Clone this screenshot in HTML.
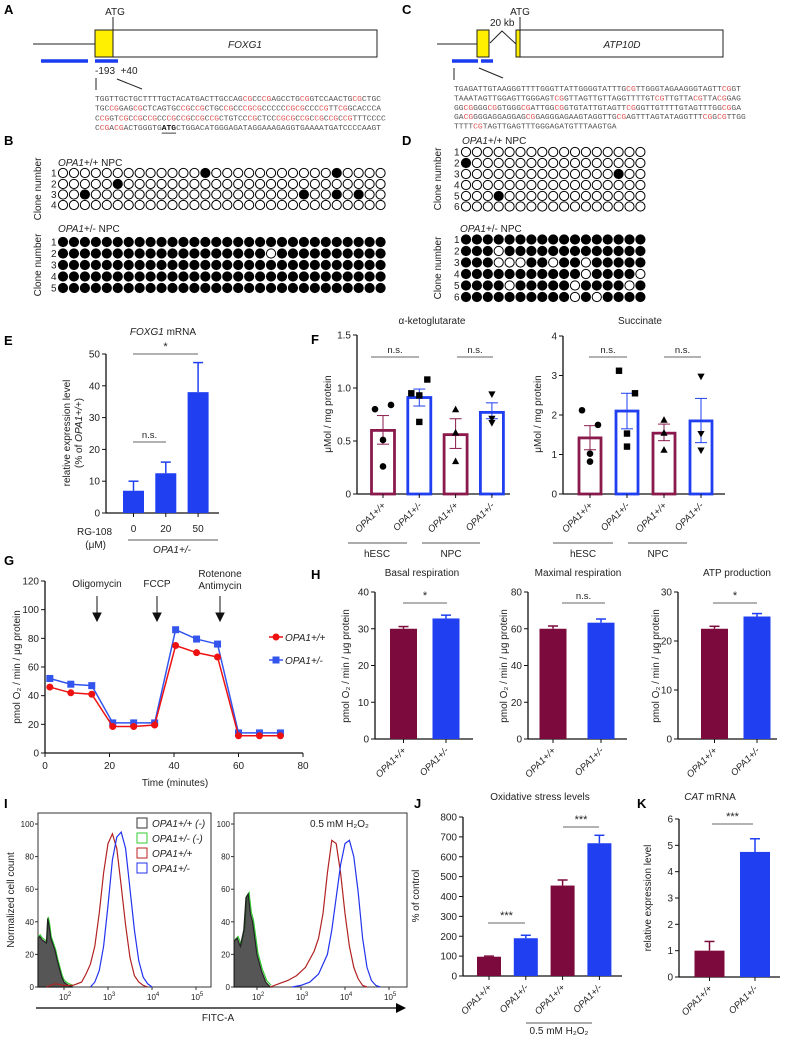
<!DOCTYPE html>
<html><head><meta charset="utf-8">
<style>
html,body{margin:0;padding:0;background:#fff;}
svg{display:block;font-family:"Liberation Sans",Arial,sans-serif;}
.pl{font-weight:bold;font-size:13px;}
.t{font-size:10px;fill:#222;}
.it{font-style:italic;}
</style></head>
<body>
<svg id="fig" width="787" height="1037" viewBox="0 0 787 1037" xmlns="http://www.w3.org/2000/svg">
<rect width="787" height="1037" fill="#fff"/>
<!-- Panel labels -->
<text class="pl" x="4" y="14">A</text>
<text class="pl" x="402" y="14">C</text>
<text class="pl" x="4" y="145">B</text>
<text class="pl" x="402" y="145">D</text>
<text class="pl" x="4" y="345">E</text>
<text class="pl" x="311" y="344">F</text>
<text class="pl" x="4" y="565">G</text>
<text class="pl" x="311" y="579">H</text>
<text class="pl" x="4" y="808">I</text>
<text class="pl" x="414" y="808">J</text>
<text class="pl" x="637" y="808">K</text>

<!-- A gene diagram -->
<g stroke="#222" fill="none">
<line x1="33" y1="44" x2="95" y2="44"/>
<rect x="95" y="30" width="18" height="27" fill="#ffef00"/>
<rect x="113" y="30" width="264" height="27" fill="#fff"/>
<line x1="113" y1="17" x2="113" y2="30"/>
<line x1="41" y1="61" x2="88" y2="61" stroke="#1a3cf0" stroke-width="3.5"/>
<line x1="95" y1="61" x2="118" y2="61" stroke="#1a3cf0" stroke-width="3.5"/>
<line x1="96" y1="78" x2="96" y2="90"/>
<line x1="117" y1="79" x2="142" y2="89"/>
</g>
<text class="t" x="115" y="15" text-anchor="middle" font-size="11">ATG</text>
<text class="t it" x="245" y="48" text-anchor="middle" font-size="11">FOXG1</text>
<text class="t" x="95" y="74" font-size="10">-193&#160; +40</text>
<g id="seqA"></g>

<!-- C gene diagram -->
<g stroke="#222" fill="none">
<line x1="437" y1="44" x2="477" y2="44"/>
<rect x="477" y="30" width="12" height="27" fill="#ffef00"/>
<polyline points="490,43 502,31 516,44"/>
<rect x="516" y="30" width="4" height="27" fill="#ffef00"/>
<rect x="520" y="30" width="203" height="27" fill="#fff"/>
<line x1="520" y1="17" x2="520" y2="30"/>
<line x1="452" y1="61" x2="478" y2="61" stroke="#1a3cf0" stroke-width="3.5"/>
<line x1="481" y1="61" x2="493" y2="61" stroke="#1a3cf0" stroke-width="3.5"/>
<line x1="454" y1="68" x2="454" y2="80"/>
<line x1="479" y1="68" x2="503" y2="78"/>
</g>
<text class="t" x="520" y="15" text-anchor="middle" font-size="11">ATG</text>
<text class="t" x="490" y="26" font-size="10.5">20 kb</text>
<text class="t it" x="622" y="48" text-anchor="middle" font-size="11">ATP10D</text>
<g id="seqC"></g>

<!-- B / D -->
<text class="t" x="58" y="166" font-size="10"><tspan font-style="italic">OPA1</tspan>+/+ NPC</text>
<text class="t" x="58" y="232" font-size="10"><tspan font-style="italic">OPA1</tspan>+/- NPC</text>
<text class="t" x="462" y="144" font-size="10"><tspan font-style="italic">OPA1</tspan>+/+ NPC</text>
<text class="t" x="460" y="232" font-size="10"><tspan font-style="italic">OPA1</tspan>+/- NPC</text>
<text class="t" transform="translate(41,189) rotate(-90)" text-anchor="middle" font-size="10">Clone number</text>
<text class="t" transform="translate(41,265) rotate(-90)" text-anchor="middle" font-size="10">Clone number</text>
<text class="t" transform="translate(441,179) rotate(-90)" text-anchor="middle" font-size="10">Clone number</text>
<text class="t" transform="translate(441,268) rotate(-90)" text-anchor="middle" font-size="10">Clone number</text>
<g id="meth"></g>

<!-- E labels -->
<text class="t" x="163" y="335" text-anchor="middle" font-size="10"><tspan font-style="italic">FOXG1</tspan> mRNA</text>
<text class="t" transform="translate(70,433) rotate(-90)" text-anchor="middle" font-size="10">relative expression level</text>
<text class="t" transform="translate(82,433) rotate(-90)" text-anchor="middle" font-size="10">(% of <tspan font-style="italic">OPA1+/+</tspan>)</text>
<text class="t" x="112" y="535" text-anchor="end" font-size="10">RG-108</text>
<text class="t" x="106" y="548" text-anchor="end" font-size="10">(μM)</text>
<line x1="128" y1="540" x2="218" y2="540" stroke="#222" stroke-width="0.8"/>
<text class="t it" x="172" y="553" text-anchor="middle" font-size="10">OPA1+/-</text>

<!-- F labels -->
<text class="t" x="432" y="324" text-anchor="middle" font-size="10">α-ketoglutarate</text>
<text class="t" x="640" y="324" text-anchor="middle" font-size="10">Succinate</text>
<text class="t" transform="translate(331,414) rotate(-90)" text-anchor="middle" font-size="10">μMol / mg protein</text>
<text class="t" transform="translate(541,414) rotate(-90)" text-anchor="middle" font-size="10">μMol / mg protein</text>
<g stroke="#222" stroke-width="0.8">
<line x1="348" y1="543" x2="407" y2="543"/><line x1="422" y1="543" x2="480" y2="543"/>
<line x1="553" y1="543" x2="613" y2="543"/><line x1="628" y1="543" x2="687" y2="543"/>
</g>
<text class="t" x="377" y="557" text-anchor="middle">hESC</text>
<text class="t" x="451" y="557" text-anchor="middle">NPC</text>
<text class="t" x="583" y="557" text-anchor="middle">hESC</text>
<text class="t" x="658" y="557" text-anchor="middle">NPC</text>

<!-- G labels -->
<text class="t" transform="translate(20,667) rotate(-90)" text-anchor="middle">pmol O₂ / min / μg protein</text>
<text class="t" x="175" y="786" text-anchor="middle">Time (minutes)</text>
<text class="t" x="97" y="587" text-anchor="middle">Oligomycin</text>
<text class="t" x="157" y="587" text-anchor="middle">FCCP</text>
<text class="t" x="220" y="577" text-anchor="middle">Rotenone</text>
<text class="t" x="220" y="589" text-anchor="middle">Antimycin</text>
<g fill="#111" stroke="#111">
<line x1="97" y1="596" x2="97" y2="614"/><polygon points="93,613 101,613 97,621"/>
<line x1="157" y1="596" x2="157" y2="614"/><polygon points="153,613 161,613 157,621"/>
<line x1="220" y1="596" x2="220" y2="614"/><polygon points="216,613 224,613 220,621"/>
</g>
<g>
<line x1="269" y1="637" x2="283" y2="637" stroke="#ee1111" stroke-width="1.5"/><circle cx="276" cy="637" r="3.5" fill="#ee1111"/>
<text class="t it" x="285" y="641">OPA1+/+</text>
<line x1="269" y1="660" x2="283" y2="660" stroke="#3355ee" stroke-width="1.5"/><rect x="272.5" y="656.5" width="7" height="7" fill="#3355ee"/>
<text class="t it" x="285" y="664">OPA1+/-</text>
</g>

<!-- H labels -->
<text class="t" x="422" y="576" text-anchor="middle">Basal respiration</text>
<text class="t" x="578" y="576" text-anchor="middle">Maximal respiration</text>
<text class="t" x="737" y="576" text-anchor="middle">ATP production</text>
<text class="t" transform="translate(349,666) rotate(-90)" text-anchor="middle">pmol O₂ / min / μg protein</text>
<text class="t" transform="translate(507,666) rotate(-90)" text-anchor="middle">pmol O₂ / min / μg protein</text>
<text class="t" transform="translate(659,666) rotate(-90)" text-anchor="middle">pmol O₂ / min / μg protein</text>

<!-- I -->
<text class="t" transform="translate(14,900) rotate(-90)" text-anchor="middle">Normalized cell count</text>
<line x1="36" y1="1008" x2="398" y2="1008" stroke="#000" stroke-width="1.3"/>
<polygon points="396,1003 406,1008 396,1013" fill="#000"/>
<text class="t" x="218" y="1021" text-anchor="middle">FITC-A</text>
<text class="t" x="310" y="827" font-size="10">0.5 mM H₂O₂</text>
<g font-size="9.5">
<rect x="137" y="818" width="10" height="10" fill="none" stroke="#333"/><text class="t it" x="152" y="827" font-size="9.5">OPA1+/+ (-)</text>
<rect x="137" y="833" width="10" height="10" fill="none" stroke="#3c3"/><text class="t it" x="152" y="842" font-size="9.5">OPA1+/- (-)</text>
<rect x="137" y="848" width="10" height="10" fill="none" stroke="#b22"/><text class="t it" x="152" y="857" font-size="9.5">OPA1+/+</text>
<rect x="137" y="863" width="10" height="10" fill="none" stroke="#23e"/><text class="t it" x="152" y="872" font-size="9.5">OPA1+/-</text>
</g>

<!-- J/K labels -->
<text class="t" x="540" y="800" text-anchor="middle">Oxidative stress levels</text>
<text class="t" transform="translate(419,896) rotate(-90)" text-anchor="middle">% of control</text>
<line x1="526" y1="1023" x2="592" y2="1023" stroke="#222" stroke-width="0.8"/>
<text class="t" x="559" y="1034" text-anchor="middle">0.5 mM H₂O₂</text>
<text class="t" x="710" y="800" text-anchor="middle"><tspan font-style="italic">CAT</tspan> mRNA</text>
<text class="t" transform="translate(651,898) rotate(-90)" text-anchor="middle">relative expression level</text>

<g id="charts"></g>
</svg>

<script>
// ---------- DATA ----------
const seqA = ["TGGTTGCTGCTTTTGCTACATGACTTGCCAGCGCCCGAGCCTGCGGTCCAACTGCGCTGC",
"TGCCGGAGCGCTCAGTGCCGCCGCTGCCGCCCGCGCCCCCCGCGCCCCGTTCGGCACCCA",
"CCGGTCGCCGCCGCCCGCCGCCGCCGCTGTCCCGCTCCCGCGCCGCCGCCGCCGTTTCCCC",
"CCGACGACTGGGTGATGCTGGACATGGGAGATAGGAAAGAGGTGAAAATGATCCCCAAGT"];
const seqC = ["TGAGATTGTAAGGGTTTTGGGTTATTGGGGTATTTGCGTTGGGTAGAAGGGTAGTTCGGT",
"TAAATAGTTGGAGTTGGGAGTCGGTTAGTTGTTAGGTTTTGTCGTTGTTACGTTACGGAG",
"GGCGGGGCGGTGGGCGATTGGCGGTGTATTGTAGTTCGGGTTGTTTTGTAGTTTGGCGGA",
"GACGGGGAGGAGGAGCGGAGGGAGAAGTAGGTTGCGAGTTTAGTATAGGTTTCGGCGTTGG",
"TTTTCGTAGTTGAGTTTGGGAGATGTTTAAGTGA"];

// methylation: filled (B upper/D upper) or open (B lower/D lower) column indices per clone
const bUpperFilled = [[13,25],[5],[2,22,25,27],[]];
const bLowerOpen = [[],[19],[],[],[]];
const dUpperFilled = [[],[0],[14],[],[3],[]];
const dLowerOpen = [[],[3],[3,4,5,8,11],[11,16],[4,10,15],[10,12]];

// E
const eCats = ["0","20","50"];
const eVals = [7,12.5,38];
const eErr = [10,16,47.3];
const eTicks = [0,10,20,30,40,50];
// F alpha-KG
const akgVals = [0.60,0.91,0.56,0.77];
const akgLo = [0.47,0.83,0.43,0.71];
const akgHi = [0.74,0.99,0.71,0.86];
const akgPts = [[0.80,0.84,0.51,0.26],[0.95,1.08,0.93,0.68],[0.80,0.58,0.31],[0.94,0.71,0.67]];
const akgTicks = [0,0.5,1.0,1.5];
const akgTickLabels = ["0","0.5","1.0","1.5"];
// F succinate
const sucVals = [1.42,2.1,1.54,1.85];
const sucLo = [1.12,1.65,1.35,1.3];
const sucHi = [1.73,2.55,1.77,2.42];
const sucPts = [[2.12,1.75,1.02,0.82],[3.12,2.55,1.53,1.2],[1.88,1.55,1.12],[2.97,1.52,1.1]];
const sucTicks = [0,1,2,3,4];
const fCats = ["OPA1+/+","OPA1+/-","OPA1+/+","OPA1+/-"];
// G
const gTimes = [1.5,8,14.5,21,27.5,34,40.5,47,53.5,60,66.5,73];
const gRed = [46,42,41,18.5,18.5,19.5,75,70,67,12,12,12];
const gBlue = [52,48,47,21,21,21,86,79.5,76,14,14,14];
const gYTicks = [0,20,40,60,80,100,120];
const gXTicks = [0,20,40,60,80];
// H
const hCats = ["OPA1+/+","OPA1+/-"];
const basalVals = [30,32.8], basalErr = [30.6,33.7];
const maxVals = [60,63.3], maxErr = [61.5,65.3];
const atpVals = [22.5,25], atpErr = [23.0,25.6];
// I histograms (log10 FITC, normalized count)
const negLX = [1.41,1.45,1.5,1.55,1.6,1.63,1.66,1.7,1.75,1.8,1.85,1.9,1.95,2.0,2.1,2.2];
const negLY = [30,31,29,28,27,42,38,30,26,22,16,11,6,3,1,0];
const redLX = [1.6,1.8,2.0,2.2,2.4,2.5,2.6,2.7,2.8,2.9,3.0,3.1,3.2,3.3,3.4,3.5,3.6,3.7,3.8,3.9];
const redLY = [0,2,1,1,3,8,14,25,45,70,88,94,85,62,38,18,7,3,1,0];
const blueLX = [2.6,2.7,2.8,2.9,3.0,3.1,3.2,3.3,3.4,3.5,3.6,3.7,3.8,3.9,4.0];
const blueLY = [0,3,10,25,50,78,92,95,85,60,35,16,6,2,0];
const negRX = [1.48,1.55,1.62,1.7,1.75,1.8,1.85,1.9,1.95,2.0,2.1,2.2,2.3];
const negRY = [28,30,25,35,55,57,45,40,30,20,10,3,0];
const redRX = [2.3,2.5,2.7,2.9,3.1,3.3,3.4,3.5,3.6,3.7,3.8,3.9,4.0,4.1,4.2,4.3,4.4,4.5];
const redRY = [0,2,4,7,12,22,30,45,70,90,88,70,45,25,12,5,1,0];
const blueRX = [2.8,3.0,3.2,3.4,3.6,3.7,3.8,3.9,4.0,4.1,4.2,4.3,4.4,4.5,4.6,4.7,4.8];
const blueRY = [0,1,3,8,20,35,55,75,88,90,80,58,30,12,4,1,0];
const iYTicks = [0,20,40,60,80,100];
const iXTicks = [2,3,4,5];
// J
const jCats = ["OPA1+/+","OPA1+/-","OPA1+/+","OPA1+/-"];
const jVals = [97,190,455,668];
const jErr = [100,205,483,708];
const jTicks = [0,100,200,300,400,500,600,700,800];
// K
const kVals = [1,4.75];
const kErr = [1.35,5.25];
const kTicks = [0,1,2,3,4,5,6];

// ---------- DRAW ----------
const NS = "http://www.w3.org/2000/svg";
const root = document.getElementById("charts");
const MAROON = "#7d0a3c", BLUE = "#1f3ff0";
function mk(tag, attrs, name, parent) {
  const el = document.createElementNS(NS, tag);
  for (const k in attrs) el.setAttribute(k, attrs[k]);
  
  
  (parent || root).appendChild(el);
  return el;
}
function txt(x, y, s, name, extra, parent) {
  const a = Object.assign({x: x, y: y, "font-size": 10, fill: "#222"}, extra || {});
  const el = mk("text", a, name, parent);
  el.textContent = s;
  return el;
}

// sequences
function drawSeq(lines, x0, y0, dy, width, gid, prefix, atgLine, atgIdx) {
  const g = document.getElementById(gid);
  const cw = width / 60;
  lines.forEach((s, li) => {
    const t = mk("text", {x: x0, y: y0 + li * dy, "font-family": "Liberation Mono, monospace", "font-size": 7.2, fill: "#555", textLength: (cw * s.length).toFixed(1), lengthAdjust: "spacingAndGlyphs"}, prefix + "-line-" + (li + 1), g);
    let i = 0;
    while (i < s.length) {
      let seg, attrs = {};
      if (s.substr(i, 2) === "CG") { seg = "CG"; attrs.fill = "#e05050"; }
      else if (li === atgLine && i === atgIdx) { seg = "ATG"; attrs["font-weight"] = "bold"; attrs.fill = "#111"; }
      else {
        let j = i + 1;
        while (j < s.length && s.substr(j, 2) !== "CG" && !(li === atgLine && j === atgIdx)) j++;
        seg = s.slice(i, j);
      }
      const ts = document.createElementNS(NS, "tspan");
      for (const k in attrs) ts.setAttribute(k, attrs[k]);
      ts.textContent = seg;
      t.appendChild(ts);
      i += seg.length;
    }
    if (li === atgLine) mk("line", {x1: x0 + atgIdx * cw, x2: x0 + (atgIdx + 3) * cw, y1: y0 + li * dy + 3, y2: y0 + li * dy + 3, stroke: "#111", "stroke-width": 0.8}, "atg-underline", g);
  });
}
drawSeq(seqA, 95, 101, 9.7, 286, "seqA", "foxg1-seq", 3, 14);
drawSeq(seqC, 454, 91, 9.4, 287, "seqC", "atp10d-seq", -1, -1);

// methylation grids
function grid(x0, pitch, ys, ncol, list, listIsFilled, prefix) {
  const g = document.getElementById("meth");
  ys.forEach((y, r) => {
    txt(x0 - 12, y + 3.5, String(r + 1), prefix + "-clone-" + (r + 1), {"font-size": 10}, g);
    for (let c = 0; c < ncol; c++) {
      const inList = list[r].indexOf(c) >= 0;
      const filled = listIsFilled ? inList : !inList;
      mk("circle", {cx: x0 + c * pitch, cy: y, r: 4.6, fill: filled ? "#000" : "#fff", stroke: "#000", "stroke-width": 1}, prefix + "-cpg", g);
    }
  });
}
grid(63, 10.95, [173, 184, 194.5, 205], 30, bUpperFilled, true, "b-upper");
grid(63, 10.95, [242, 253.5, 265, 276.5, 288], 30, bLowerOpen, false, "b-lower");
grid(466, 10.9, [152, 163, 174, 185, 196, 206.5], 17, dUpperFilled, true, "d-upper");
grid(466, 10.9, [239.5, 251, 262.5, 274, 285.5, 297], 17, dLowerOpen, false, "d-lower");

// generic bar chart
function yAxis(ax, yB, yT, ticks, labels, max, prefix, xEnd) {
  const sy = v => yB - (v / max) * (yB - yT);
  mk("line", {x1: ax, x2: ax, y1: yB, y2: yT, stroke: "#111", "stroke-width": 1.3}, prefix + "-y-axis");
  mk("line", {x1: ax, x2: xEnd, y1: yB, y2: yB, stroke: "#111", "stroke-width": 1.3}, prefix + "-x-axis");
  ticks.forEach((t, i) => {
    mk("line", {x1: ax - 4, x2: ax, y1: sy(t), y2: sy(t), stroke: "#111", "stroke-width": 1}, prefix + "-y-tick");
    txt(ax - 6, sy(t) + 3.5, labels ? labels[i] : String(t), prefix + "-y-tick-label", {"text-anchor": "end"});
  });
  return sy;
}
function catLabel(x, y, s, name) {
  txt(0, 0, s, name, {"font-style": "italic", "font-size": 9.5, "text-anchor": "end", transform: "translate(" + (x + 3) + "," + y + ") rotate(-45)"});
}
function filledBars(cfg) {
  const sy = yAxis(cfg.ax, cfg.yB, cfg.yT, cfg.ticks, cfg.tickLabels, cfg.max, cfg.prefix, cfg.xEnd);
  cfg.vals.forEach((v, i) => {
    const cx = cfg.c0 + i * cfg.pitch;
    const col = cfg.colors[i];
    mk("line", {x1: cx, x2: cx, y1: sy(v), y2: sy(cfg.err[i]), stroke: col, "stroke-width": 1.5}, cfg.prefix + "-error-bar");
    mk("line", {x1: cx - 5, x2: cx + 5, y1: sy(cfg.err[i]), y2: sy(cfg.err[i]), stroke: col, "stroke-width": 1.5}, cfg.prefix + "-error-cap");
    mk("rect", {x: cx - cfg.w / 2, y: sy(v), width: cfg.w, height: cfg.yB - sy(v), fill: col}, cfg.prefix + "-bar-" + (i + 1));
    mk("line", {x1: cx, x2: cx, y1: cfg.yB, y2: cfg.yB + 4, stroke: "#111", "stroke-width": 1}, cfg.prefix + "-x-tick");
    if (cfg.cats) {
      if (cfg.rot) catLabel(cx, cfg.yB + 12, cfg.cats[i], cfg.prefix + "-x-label");
      else txt(cx, cfg.yB + 19, cfg.cats[i], cfg.prefix + "-x-label", {"text-anchor": "middle"});
    }
  });
  return sy;
}
function sig(x1, x2, y, s, name) {
  mk("line", {x1: x1, x2: x2, y1: y, y2: y, stroke: "#333", "stroke-width": 0.8}, name + "-line");
  txt((x1 + x2) / 2, y - 4, s, name + "-label", {"text-anchor": "middle", "font-size": s === "n.s." ? 9.5 : 11});
}

// E
filledBars({prefix: "e", ax: 106, yB: 513, yT: 354, max: 50, ticks: eTicks, xEnd: 219, c0: 133.5, pitch: 32.3, w: 21, vals: eVals, err: eErr, colors: [BLUE, BLUE, BLUE], cats: eCats, rot: false});
sig(133, 198, 354, "*", "e-sig-star");
sig(133, 166, 442, "n.s.", "e-sig-ns");

// F
function outlineChart(cfg) {
  const sy = yAxis(cfg.ax, cfg.yB, cfg.yT, cfg.ticks, cfg.tickLabels, cfg.max, cfg.prefix, cfg.xEnd);
  const markers = ["circle", "square", "up", "down"];
  cfg.vals.forEach((v, i) => {
    const cx = cfg.c0 + i * cfg.pitch;
    const col = i % 2 === 0 ? "#8a1a4c" : BLUE;
    mk("rect", {x: cx - cfg.w / 2, y: sy(v), width: cfg.w, height: cfg.yB - sy(v), fill: "none", stroke: col, "stroke-width": 2.8}, cfg.prefix + "-bar-" + (i + 1));
    mk("line", {x1: cx, x2: cx, y1: sy(cfg.lo[i]), y2: sy(cfg.hi[i]), stroke: col, "stroke-width": 1}, cfg.prefix + "-error-bar");
    mk("line", {x1: cx - 6, x2: cx + 6, y1: sy(cfg.lo[i]), y2: sy(cfg.lo[i]), stroke: col, "stroke-width": 1}, cfg.prefix + "-error-cap-low");
    mk("line", {x1: cx - 6, x2: cx + 6, y1: sy(cfg.hi[i]), y2: sy(cfg.hi[i]), stroke: col, "stroke-width": 1}, cfg.prefix + "-error-cap-high");
    const pts = cfg.pts[i];
    pts.forEach((p, j) => {
      const off = pts.length === 4 ? [-8, 8, 0, 0][j] : 0;
      const x = cx + off, y = sy(p);
      const m = markers[i];
      if (m === "circle") mk("circle", {cx: x, cy: y, r: 3.3, fill: "#000"}, cfg.prefix + "-point");
      else if (m === "square") mk("rect", {x: x - 3.2, y: y - 3.2, width: 6.4, height: 6.4, fill: "#000"}, cfg.prefix + "-point");
      else if (m === "up") mk("polygon", {points: (x - 3.6) + "," + (y + 3) + " " + (x + 3.6) + "," + (y + 3) + " " + x + "," + (y - 3.6), fill: "#000"}, cfg.prefix + "-point");
      else mk("polygon", {points: (x - 3.6) + "," + (y - 3) + " " + (x + 3.6) + "," + (y - 3) + " " + x + "," + (y + 3.6), fill: "#000"}, cfg.prefix + "-point");
    });
    mk("line", {x1: cx, x2: cx, y1: cfg.yB, y2: cfg.yB + 4, stroke: "#111", "stroke-width": 1}, cfg.prefix + "-x-tick");
    catLabel(cx, cfg.yB + 12, fCats[i], cfg.prefix + "-x-label");
  });
}
outlineChart({prefix: "f-akg", ax: 357, yB: 494, yT: 335, max: 1.5, ticks: akgTicks, tickLabels: akgTickLabels, xEnd: 510, c0: 383, pitch: 36.3, w: 23, vals: akgVals, lo: akgLo, hi: akgHi, pts: akgPts});
sig(371, 419, 357, "n.s.", "f-akg-sig-1");
sig(457, 493, 357, "n.s.", "f-akg-sig-2");
outlineChart({prefix: "f-suc", ax: 563, yB: 494, yT: 336, max: 4, ticks: sucTicks, xEnd: 725, c0: 590, pitch: 37, w: 22, vals: sucVals, lo: sucLo, hi: sucHi, pts: sucPts});
sig(589, 627, 357, "n.s.", "f-suc-sig-1");
sig(664, 701, 357, "n.s.", "f-suc-sig-2");

// G
(function () {
  const ax = 45, yB = 753, yT = 581, x80 = 303;
  const sx = t => ax + t / 80 * (x80 - ax);
  const sy = v => yB - v / 120 * (yB - yT);
  mk("line", {x1: ax, x2: ax, y1: yB, y2: yT, stroke: "#111", "stroke-width": 1.3}, "g-y-axis");
  mk("line", {x1: ax, x2: x80, y1: yB, y2: yB, stroke: "#111", "stroke-width": 1.3}, "g-x-axis");
  gYTicks.forEach(t => {
    mk("line", {x1: ax - 4, x2: ax, y1: sy(t), y2: sy(t), stroke: "#111"}, "g-y-tick");
    txt(ax - 6, sy(t) + 3.5, String(t), "g-y-tick-label", {"text-anchor": "end"});
  });
  gXTicks.forEach(t => {
    mk("line", {x1: sx(t), x2: sx(t), y1: yB, y2: yB + 4, stroke: "#111"}, "g-x-tick");
    txt(sx(t), yB + 16, String(t), "g-x-tick-label", {"text-anchor": "middle"});
  });
  const ptsB = gTimes.map((t, i) => sx(t) + "," + sy(gBlue[i])).join(" ");
  const ptsR = gTimes.map((t, i) => sx(t) + "," + sy(gRed[i])).join(" ");
  mk("polyline", {points: ptsB, fill: "none", stroke: "#3355ee", "stroke-width": 1.5}, "g-line-opa1-het");
  gTimes.forEach((t, i) => mk("rect", {x: sx(t) - 3.5, y: sy(gBlue[i]) - 3.5, width: 7, height: 7, fill: "#3355ee"}, "g-point-opa1-het"));
  mk("polyline", {points: ptsR, fill: "none", stroke: "#ee1111", "stroke-width": 1.5}, "g-line-opa1-wt");
  gTimes.forEach((t, i) => mk("circle", {cx: sx(t), cy: sy(gRed[i]), r: 3.5, fill: "#ee1111"}, "g-point-opa1-wt"));
})();

// H
filledBars({prefix: "h-basal", ax: 375, yB: 739, yT: 592, max: 40, ticks: [0,10,20,30,40], xEnd: 473, c0: 403.5, pitch: 42.5, w: 27, vals: basalVals, err: basalErr, colors: [MAROON, BLUE], cats: hCats, rot: true});
sig(403, 447, 603, "*", "h-basal-sig");
filledBars({prefix: "h-max", ax: 528, yB: 739, yT: 592, max: 80, ticks: [0,20,40,60,80], xEnd: 627, c0: 553, pitch: 48, w: 27, vals: maxVals, err: maxErr, colors: [MAROON, BLUE], cats: hCats, rot: true});
sig(562, 605, 603, "n.s.", "h-max-sig");
filledBars({prefix: "h-atp", ax: 678, yB: 739, yT: 592, max: 30, ticks: [0,10,20,30], xEnd: 777, c0: 714.5, pitch: 42.5, w: 27, vals: atpVals, err: atpErr, colors: [MAROON, BLUE], cats: hCats, rot: true});
sig(713, 757, 603, "*", "h-atp-sig");

// I histograms
function histo(x0, x1, yT, yB, l2x, prefix, curves) {
  mk("rect", {x: x0, y: yT, width: x1 - x0, height: yB - yT, fill: "none", stroke: "#333", "stroke-width": 1}, prefix + "-frame");
  const y100 = 824, y0 = yB;
  const sy = v => y0 - v / 100 * (y0 - y100);
  const sx = l => l2x + (l - 2) * 44;
  iYTicks.forEach(t => {
    mk("line", {x1: x0 - 3, x2: x0, y1: sy(t), y2: sy(t), stroke: "#333"}, prefix + "-y-tick");
    txt(x0 - 4, sy(t) + 3, String(t), prefix + "-y-tick-label", {"text-anchor": "end", "font-size": 8});
  });
  iXTicks.forEach(d => {
    mk("line", {x1: sx(d), x2: sx(d), y1: yB, y2: yB + 3, stroke: "#333"}, prefix + "-x-tick");
    const t = txt(sx(d) - 5, yB + 13, "10", prefix + "-x-tick-label", {"font-size": 8});
    const sup = document.createElementNS(NS, "tspan");
    sup.setAttribute("dy", "-4"); sup.setAttribute("font-size", "6");
    sup.textContent = String(d);
    t.appendChild(sup);
  });
  curves.forEach(c => {
    const pts = c.x.map((l, i) => sx(l).toFixed(1) + "," + sy(c.y[i]).toFixed(1));
    if (c.fill) pts.push(sx(c.x[c.x.length - 1]).toFixed(1) + "," + y0, sx(c.x[0]).toFixed(1) + "," + y0);
    mk(c.fill ? "polygon" : "polyline", {points: pts.join(" "), fill: c.fill || "none", stroke: c.col, "stroke-width": 1.2}, prefix + "-" + c.name);
  });
}
histo(38, 211, 813, 987, 64, "i-left", [
  {x: negLX.map(v => v + 0.01), y: negLY.map(v => v + 1), col: "#3c3", name: "curve-het-neg"},
  {x: negLX, y: negLY, col: "#222", fill: "rgba(30,30,30,0.75)", name: "curve-wt-neg"},
  {x: redLX, y: redLY, col: "#b22222", name: "curve-wt"},
  {x: blueLX, y: blueLY, col: "#2233ee", name: "curve-het"}
]);
histo(234, 407, 813, 987, 257, "i-right", [
  {x: negRX.map(v => v + 0.02), y: negRY.map(v => v + 1), col: "#3c3", name: "curve-het-neg"},
  {x: negRX, y: negRY, col: "#222", fill: "rgba(30,30,30,0.75)", name: "curve-wt-neg"},
  {x: redRX, y: redRY, col: "#b22222", name: "curve-wt"},
  {x: blueRX, y: blueRY, col: "#2233ee", name: "curve-het"}
]);

// J
filledBars({prefix: "j", ax: 463, yB: 976, yT: 817, max: 800, ticks: jTicks, xEnd: 622, c0: 489, pitch: 36.8, w: 24, vals: jVals, err: jErr, colors: [MAROON, BLUE, MAROON, BLUE], cats: jCats, rot: true});
sig(488, 525, 923, "***", "j-sig-1");
sig(563, 599, 827, "***", "j-sig-2");
// K
filledBars({prefix: "k", ax: 679, yB: 977, yT: 819, max: 6, ticks: kTicks, xEnd: 780, c0: 709.5, pitch: 45.5, w: 30, vals: kVals, err: kErr, colors: [MAROON, BLUE], cats: hCats, rot: true});
sig(712, 753, 824, "***", "k-sig");
</script>
</body></html>
